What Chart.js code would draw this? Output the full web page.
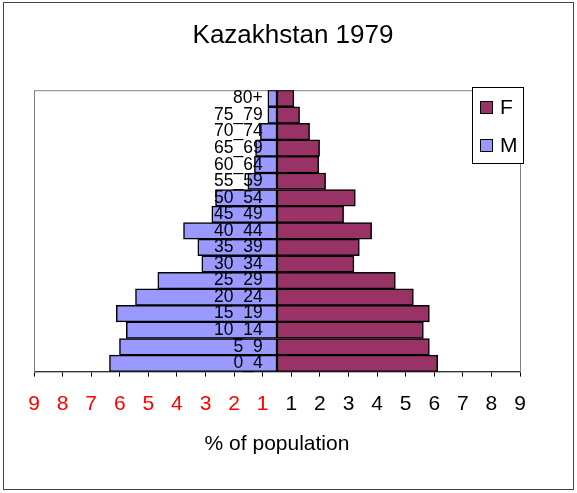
<!DOCTYPE html>
<html>
<head>
<meta charset="utf-8">
<script src="https://cdn.jsdelivr.net/npm/chart.js@4"></script>
<style>
    body { margin: 0; background: #fff; }
</style>
</head>
<body>
<canvas id="pyramidChart" width="577" height="493"></canvas>
<script>
// Age groups, bottom to top
const ageGroups = ['0_4', '5_9', '10_14', '15_19', '20_24', '25_29', '30_34', '35_39', '40_44',
    '45_49', '50_54', '55_59', '60_64', '65_69', '70_74', '75_79', '80+'];

// % of population per age group
const femaleValues = [5.62, 5.33, 5.12, 5.33, 4.77, 4.14, 2.69, 2.88, 3.31, 2.33, 2.74, 1.70, 1.46, 1.49, 1.14, 0.79, 0.59];
const maleValues = [5.86, 5.51, 5.27, 5.62, 4.95, 4.17, 2.63, 2.77, 3.27, 2.28, 2.15, 1.02, 0.79, 0.75, 0.58, 0.32, 0.32];

// x axis ticks and the labels printed under them
const xTickValues = [-8.5, -7.5, -6.5, -5.5, -4.5, -3.5, -2.5, -1.5, -0.5, 0.5, 1.5, 2.5, 3.5, 4.5, 5.5, 6.5, 7.5, 8.5];
const xTickLabels = ['9', '8', '7', '6', '5', '4', '3', '2', '1', '1', '2', '3', '4', '5', '6', '7', '8', '9'];

const FONT = '"Liberation Sans", Arial, sans-serif';

// Frame, plot box and legend
const decorations = {
    id: 'decorations',
    afterLayout(chart) {
        // title sits a bit right of the plot centre in the original
        chart.titleBlock.left += 32;
    },
    beforeDatasetsDraw(chart) {
        const {ctx, chartArea: a} = chart;
        ctx.save();
        ctx.strokeStyle = '#808080';
        ctx.lineWidth = 1;
        ctx.strokeRect(a.left + 0.5, a.top + 0.5, a.right - a.left, a.bottom - a.top);
        ctx.restore();
    },
    afterDraw(chart) {
        const ctx = chart.ctx;
        ctx.save();
        ctx.strokeStyle = '#444';
        ctx.lineWidth = 1;
        ctx.strokeRect(3.5, 2.5, 570, 487);

        // legend box
        ctx.fillStyle = '#fff';
        ctx.fillRect(472, 87, 51, 76);
        ctx.strokeStyle = '#000';
        ctx.strokeRect(472.5, 87.5, 51, 76);
        ctx.font = '21px ' + FONT;
        ctx.textBaseline = 'middle';
        chart.data.datasets.forEach((ds, i) => {
            const y = 101 + i * 38;
            ctx.fillStyle = ds.backgroundColor;
            ctx.fillRect(480, y, 12, 12);
            ctx.strokeRect(480.5, y + 0.5, 12, 12);
            ctx.fillStyle = '#000';
            ctx.fillText(ds.label, 500, y + 7);
        });
        ctx.restore();
    }
};

const ctx = document.getElementById('pyramidChart').getContext('2d');
const chart = new Chart(ctx, {
    type: 'bar',
    data: {
        labels: ageGroups,
        datasets: [{
            label: 'F',
            data: femaleValues,
            backgroundColor: '#993366',
            borderColor: '#000',
            borderWidth: 1.5,
            borderSkipped: false
        }, {
            label: 'M',
            data: maleValues.map(v => -v),
            backgroundColor: '#9999FF',
            borderColor: '#000',
            borderWidth: 1.5,
            borderSkipped: false
        }]
    },
    options: {
        indexAxis: 'y',
        responsive: false,
        animation: false,
        barPercentage: 1,
        categoryPercentage: 1,
        layout: { padding: { left: 34, right: 57, top: 0, bottom: 36 } },
        plugins: {
            legend: { display: false },
            tooltip: { enabled: false },
            title: {
                display: true,
                text: 'Kazakhstan 1979',
                color: '#000',
                font: { family: FONT, size: 26, weight: 'normal' },
                padding: { top: 20, bottom: 39 }
            }
        },
        scales: {
            x: {
                type: 'linear',
                min: -8.5,
                max: 8.5,
                stacked: true,
                afterBuildTicks: scale => {
                    scale.ticks = xTickValues.map(v => ({ value: v }));
                },
                grid: { drawOnChartArea: false, drawTicks: true, tickLength: 5, color: '#000' },
                border: { display: true, color: '#000', width: 1 },
                ticks: {
                    padding: 15,
                    autoSkip: false,
                    maxRotation: 0,
                    font: { family: FONT, size: 21 },
                    color: c => c.tick && c.tick.value < 0 ? '#ff0000' : '#000',
                    callback: (value, index) => xTickLabels[index]
                },
                title: {
                    display: true,
                    text: '% of population',
                    color: '#000',
                    font: { family: FONT, size: 21 },
                    padding: { top: 0, bottom: 0 }
                }
            },
            y: {
                type: 'category',
                reverse: true,
                stacked: true,
                position: { x: -0.5 },
                grid: { display: false },
                border: { display: false },
                ticks: {
                    z: 1,
                    autoSkip: false,
                    color: '#000',
                    font: { family: FONT, size: 17.5 }
                }
            }
        }
    },
    plugins: [decorations]
});
</script>
</body>
</html>
